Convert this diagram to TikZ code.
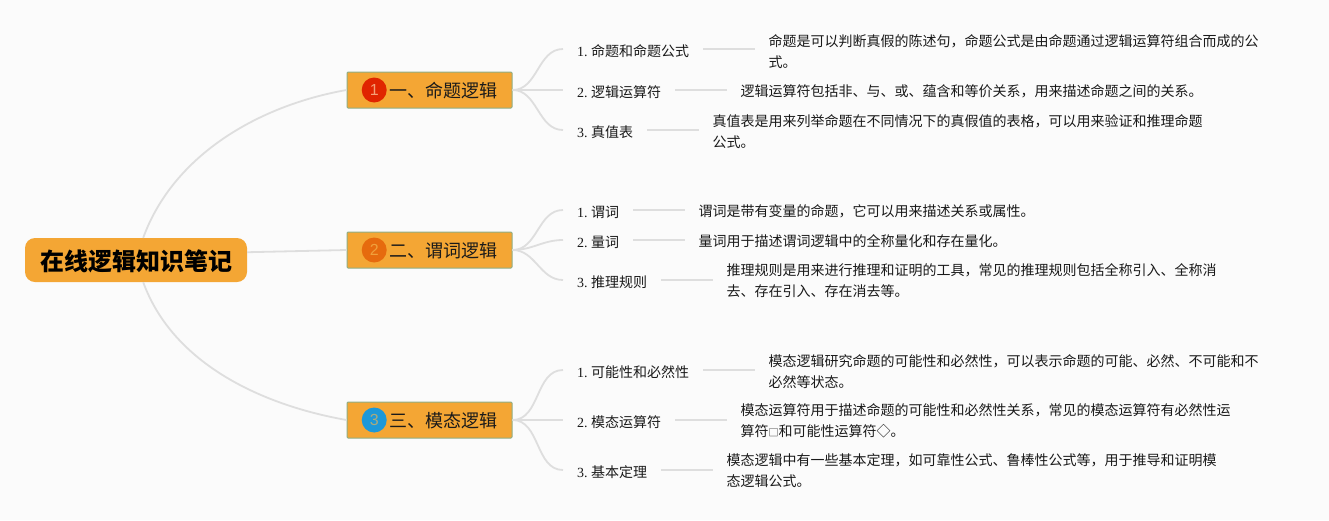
\documentclass[tikz,border=0pt]{standalone}
\usepackage{fontspec}
\newfontfamily\cjk{Noto Sans CJK SC}
\newfontfamily\digitfont{Liberation Sans}
\newfontfamily\numfont{Liberation Serif}
\definecolor{PageGrey}{RGB}{251,251,251}
\definecolor{NodeOrange}{RGB}{244,166,52}
\definecolor{EdgeGreen}{RGB}{143,174,133}
\definecolor{LinkGrey}{RGB}{222,222,222}
\definecolor{TextDark}{RGB}{26,26,26}
\definecolor{BadgeRed}{RGB}{224,36,0}
\definecolor{BadgeOrange}{RGB}{230,106,14}
\definecolor{BadgeBlue}{RGB}{29,152,216}
\definecolor{DigitRed}{RGB}{244,160,120}
\definecolor{DigitOrange}{RGB}{240,160,60}
\definecolor{DigitBlue}{RGB}{170,170,125}
\usetikzlibrary{positioning}
\newcommand{\nr}[1]{\makebox[14pt][l]{\numfont #1.}}
\tikzset{
  rootbox/.style={fill=NodeOrange,rounded corners=10pt,minimum width=222pt,minimum height=44pt,inner sep=0pt,font=\cjk\bfseries\fontsize{24}{28}\selectfont,text=black},
  branchbox/.style={draw=EdgeGreen,line width=1pt,fill=NodeOrange,rounded corners=1pt,minimum height=36pt,text width=135pt,inner xsep=15pt,inner ysep=0pt,align=right,text height=15pt,text depth=0pt,font=\cjk\fontsize{18}{22}\selectfont,text=TextDark},
  badge/.style={circle,minimum size=25pt,inner sep=0pt,font=\digitfont\fontsize{16}{20}\selectfont},
  leafbox/.style={inner xsep=14pt,inner ysep=0pt,text height=15pt,text depth=0.6pt,font=\cjk\fontsize{14}{21}\selectfont,text=TextDark},
  descbox/.style={inner xsep=13pt,inner ysep=0pt,align=left,font=\cjk\fontsize{14}{21}\selectfont,text=TextDark},
  link/.style={draw=LinkGrey,line width=1.8pt},
}
\begin{document}
\begin{tikzpicture}[x=1pt,y=-1pt]
  \fill[PageGrey] (0,0) rectangle (1329,520);
  \useasboundingbox (0,0) rectangle (1329,520);
  \node[rootbox,text depth=-1pt] (root) at (136,260) {在线逻辑知识笔记};
  % branches
  \node[branchbox] (b1) at (429.5,90) {一、命题逻辑};
  \node[branchbox] (b2) at (429.5,250) {二、谓词逻辑};
  \node[branchbox] (b3) at (429.5,420) {三、模态逻辑};
  \node[badge,fill=BadgeRed,text=DigitRed,right=15pt of b1.west] (c1) {1};
  \node[badge,fill=BadgeOrange,text=DigitOrange,right=15pt of b2.west] (c2) {2};
  \node[badge,fill=BadgeBlue,text=DigitBlue,right=15pt of b3.west] (c3) {3};
  % first group
  \node[leafbox,right=50.5pt of b1.east,yshift=41pt] (l11) {\nr{1}命题和命题公式};
  \node[leafbox,right=50.5pt of b1.east] (l12) {\nr{2}逻辑运算符};
  \node[leafbox,right=50.5pt of b1.east,yshift=-40pt] (l13) {\nr{3}真值表};
  \node[descbox,right=52pt of l11,yshift=-3pt] (d11) {命题是可以判断真假的陈述句，命题公式是由命题通过逻辑运算符组合而成的公\\式。};
  \node[descbox,right=52pt of l12,yshift=-1pt] (d12) {逻辑运算符包括非、与、或、蕴含和等价关系，用来描述命题之间的关系。};
  \node[descbox,right=52pt of l13,yshift=-2pt] (d13) {真值表是用来列举命题在不同情况下的真假值的表格，可以用来验证和推理命题\\公式。};
  % second group
  \node[leafbox,right=50.5pt of b2.east,yshift=40pt] (l21) {\nr{1}谓词};
  \node[leafbox,right=50.5pt of b2.east,yshift=10pt] (l22) {\nr{2}量词};
  \node[leafbox,right=50.5pt of b2.east,yshift=-30pt] (l23) {\nr{3}推理规则};
  \node[descbox,right=52pt of l21,yshift=-1.5pt] (d21) {谓词是带有变量的命题，它可以用来描述关系或属性。};
  \node[descbox,right=52pt of l22,yshift=-1pt] (d22) {量词用于描述谓词逻辑中的全称量化和存在量化。};
  \node[descbox,right=52pt of l23,yshift=-1pt] (d23) {推理规则是用来进行推理和证明的工具，常见的推理规则包括全称引入、全称消\\去、存在引入、存在消去等。};
  % third group
  \node[leafbox,right=50.5pt of b3.east,yshift=50pt] (l31) {\nr{1}可能性和必然性};
  \node[leafbox,right=50.5pt of b3.east] (l32) {\nr{2}模态运算符};
  \node[leafbox,right=50.5pt of b3.east,yshift=-50pt] (l33) {\nr{3}基本定理};
  \node[descbox,right=52pt of l31,yshift=-2pt] (d31) {模态逻辑研究命题的可能性和必然性，可以表示命题的可能、必然、不可能和不\\必然等状态。};
  \node[descbox,right=52pt of l32,yshift=-1pt] (d32) {模态运算符用于描述命题的可能性和必然性关系，常见的模态运算符有必然性运\\算符{\fontsize{10}{21}\selectfont □}和可能性运算符◇。};
  \node[descbox,right=52pt of l33,yshift=-1pt] (d33) {模态逻辑中有一些基本定理，如可靠性公式、鲁棒性公式等，用于推导和证明模\\态逻辑公式。};
  % links
  \draw[link] (root.72) to[out=70,in=190,looseness=0.9] (b1.west);
  \draw[link] (root.4) -- (b2.west);
  \draw[link] (root.-72) to[out=-70,in=170,looseness=0.9] (b3.west);
  \foreach \b/\l in {b1/l11,b1/l12,b1/l13,b2/l21,b2/l22,b2/l23,b3/l31,b3/l32,b3/l33}
    \draw[link] (\b.east) to[out=0,in=180] (\l.west);
  \foreach \l/\d in {l11/d11,l12/d12,l13/d13,l21/d21,l22/d22,l23/d23,l31/d31,l32/d32,l33/d33}
    \draw[link] (\l.east) -- (\l.east -| \d.west);
\end{tikzpicture}
\end{document}
